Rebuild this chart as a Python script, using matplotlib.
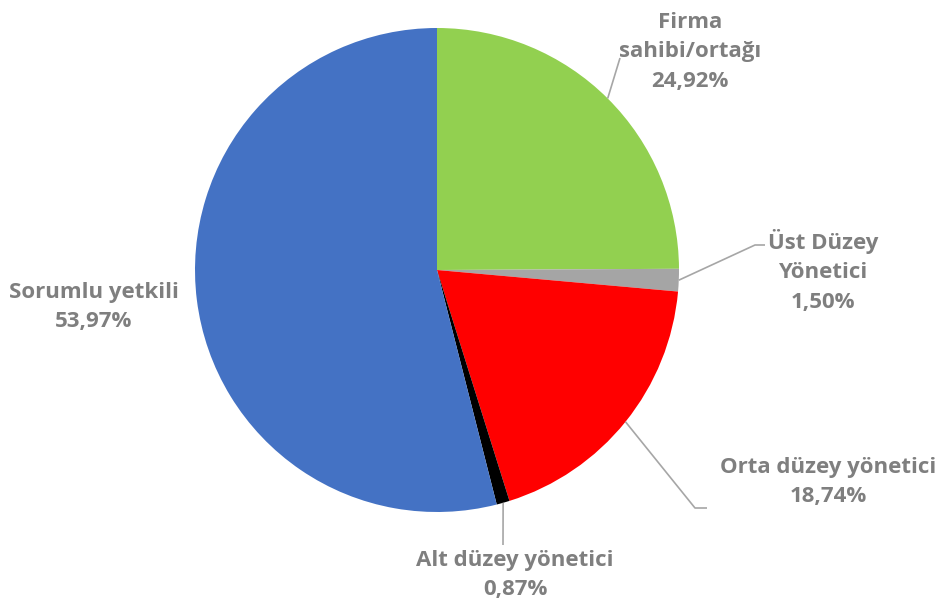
import numpy as np
import matplotlib
matplotlib.use("Agg")
import matplotlib.pyplot as plt

categories = ["Firma\nsahibi/ortağı", "Üst Düzey\nYönetici", "Orta düzey yönetici",
              "Alt düzey yönetici", "Sorumlu yetkili"]
values = [24.92, 1.50, 18.74, 0.87, 53.97]
value_labels = ["24,92%", "1,50%", "18,74%", "0,87%", "53,97%"]
colors = ["#92D050", "#A5A5A5", "#FF0000", "#000000", "#4472C4"]

W, H = 940, 608
fig = plt.figure(figsize=(W / 100, H / 100), dpi=100)
ax = fig.add_axes([0, 0, 1, 1])

cx, cy, R = 437, H - 270, 242
ax.pie(values, colors=colors, startangle=90, counterclock=False,
       center=(cx, cy), radius=R, frame=True,
       wedgeprops=dict(linewidth=0))
ax.set_xlim(0, W)
ax.set_ylim(0, H)
ax.set_aspect("equal")
ax.axis("off")

# label text positions (pixel coords from top) and leader line elbows
text_pos = [(690, 52), (823, 271), (828, 482), (515, 575), (94, 307)]
elbows = [[(620, 58)], [(755, 245), (765, 245)], [(695, 508), (707, 508)],
          [(503, 545)], None]

cum = np.cumsum([0] + values[:-1])
total = sum(values)
lc = "#A6A6A6"
for i, (cat, val, vl) in enumerate(zip(categories, values, value_labels)):
    mid = np.deg2rad(90 - (cum[i] + val / 2) / total * 360)
    px, py = cx + R * np.cos(mid), cy + R * np.sin(mid)
    if elbows[i] is not None:
        xs = [px] + [e[0] for e in elbows[i]]
        ys = [py] + [H - e[1] for e in elbows[i]]
        ax.plot(xs, ys, color=lc, lw=1.2, solid_capstyle="butt", zorder=1)
    tx, ty = text_pos[i]
    ax.text(tx, H - ty, f"{cat}\n{vl}", ha="center", va="center",
            fontsize=16, fontweight="bold", color="#7F7F7F",
            family=["Open Sans", "DejaVu Sans"], linespacing=1.55)

fig.savefig("out.png", dpi=100, facecolor="white")
